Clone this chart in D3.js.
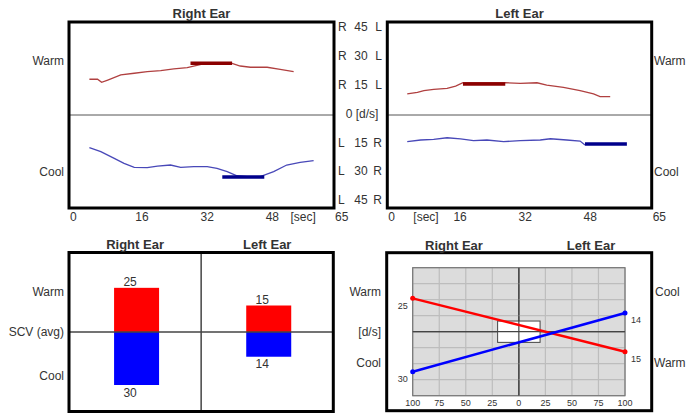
<!DOCTYPE html>
<html>
<head>
<meta charset="utf-8">
<script src="https://cdn.jsdelivr.net/npm/d3@7"></script>
<style>
  body { margin: 0; background: #fff; }
  text { font-family: Arial, "Liberation Sans", sans-serif; fill: #333; }
</style>
</head>
<body>
<div id="chart"></div>
<script>
// ---- data ----
var timeTicks = [0, 16, 32, 48, 65];
var velTicks = [45, 30, 15, 0, -15, -30, -45];

// traces: [sec, deg/s]
var rightWarm = [[5.0,17.3],[7.0,17.3],[8.0,15.8],[9.5,16.9],[12.7,19.4],[16.0,20.2],[19.2,21.0],[22.5,21.5],
                 [25.7,22.3],[29.0,22.9],[31.9,24.2],[33.9,25.2],[37.1,25.3],[40.0,25.0],[42.0,23.7],[44.5,23.1],
                 [48.6,23.1],[51.8,22.1],[55.1,21.0]];
var rightCool = [[5.0,-15.8],[7.8,-17.7],[11.1,-21.0],[13.5,-23.4],[16.0,-25.3],[19.2,-25.5],[21.7,-24.7],[24.9,-24.2],
                 [27.4,-25.3],[30.6,-25.0],[33.9,-25.0],[36.3,-25.8],[38.8,-27.4],[41.2,-29.4],[43.7,-29.8],[46.9,-29.8],
                 [50.2,-27.4],[53.4,-24.2],[56.7,-22.9],[60.0,-22.1]];
var leftWarm = [[4.9,10.2],[7.4,11.0],[9.0,11.8],[11.4,12.4],[14.7,12.9],[16.8,14.0],[18.6,15.6],[29.0,15.6],
                [32.7,15.3],[36.8,15.6],[39.2,14.5],[43.3,13.4],[47.4,11.8],[50.7,10.2],[52.3,8.9],[54.8,8.9]];
var leftCool = [[4.9,-12.9],[8.2,-12.1],[11.4,-11.8],[14.7,-11.0],[18.0,-11.6],[21.2,-12.4],[24.5,-12.1],[28.6,-12.9],
                [32.7,-12.4],[37.6,-12.1],[40.1,-11.5],[44.1,-12.1],[47.4,-12.6],[48.6,-14.5]];

// culmination windows: [start sec, end sec]
var rightWarmWin = [29.8, 40.0];
var rightCoolWin = [37.6, 47.9];
var leftWarmWin = [18.6, 29.0];
var leftCoolWin = [48.6, 58.9];

// slow component velocity averages
var ears = ["Right Ear", "Left Ear"];
var scvWarm = [25, 15];
var scvCool = [30, 14];

// butterfly chart
var pctTicks = [-100, -75, -50, -25, 0, 25, 50, 75, 100];
var dsGrid = [-48, -36, -24, -12, 0, 12, 24, 36, 48];
var normalUW = 20, normalDP = 8;

// ---- drawing ----
var W = 686, H = 414;
var svg = d3.select("#chart").append("svg").attr("width", W).attr("height", H);

var warmThin = "#b04040", warmBar = "#8b0000";
var coolThin = "#4848b8", coolBar = "#00008b";

function tracePanel(x0, x1, title, warm, cool, wWin, cWin, warmVal, coolVal, withSecAt) {
  var x = d3.scaleLinear().domain([0, 65]).range([x0, x1]);
  var y = d3.scaleLinear().domain([-45, 45]).range([208, 22]);
  var g = svg.append("g");

  g.append("line").attr("x1", x0).attr("x2", x1).attr("y1", y(0)).attr("y2", y(0))
    .attr("stroke", "#555").attr("stroke-width", 1);

  var line = d3.line().x(function(d) { return x(d[0]); }).y(function(d) { return y(d[1]); });
  g.append("path").datum(warm).attr("d", line).attr("fill", "none").attr("stroke", warmThin).attr("stroke-width", 1.3);
  g.append("path").datum(cool).attr("d", line).attr("fill", "none").attr("stroke", coolThin).attr("stroke-width", 1.3);

  g.append("line").attr("x1", x(wWin[0])).attr("x2", x(wWin[1])).attr("y1", y(warmVal)).attr("y2", y(warmVal))
    .attr("stroke", warmBar).attr("stroke-width", 3.5);
  g.append("line").attr("x1", x(cWin[0])).attr("x2", x(cWin[1])).attr("y1", y(-coolVal)).attr("y2", y(-coolVal))
    .attr("stroke", coolBar).attr("stroke-width", 3.5);

  g.append("rect").attr("x", x0).attr("y", 22).attr("width", x1 - x0).attr("height", 186)
    .attr("fill", "none").attr("stroke", "#000").attr("stroke-width", 3);

  g.append("text").attr("x", (x0 + x1) / 2).attr("y", 13).attr("dy", "0.35em")
    .attr("text-anchor", "middle").attr("font-size", 13).attr("font-weight", "bold").text(title);

  g.selectAll(".tt").data(timeTicks).enter().append("text")
    .attr("x", function(d) { return x(d) + 1; }).attr("y", 217).attr("dy", "0.35em")
    .attr("font-size", 12).text(function(d) { return d; });
  g.append("text").attr("x", x(withSecAt)).attr("y", 217).attr("dy", "0.35em")
    .attr("font-size", 12).text("[sec]");
  return y;
}

tracePanel(69, 334, "Right Ear", rightWarm, rightCool, rightWarmWin, rightCoolWin, scvWarm[0], scvCool[0], 54.3);
tracePanel(387.3, 651.7, "Left Ear", leftWarm, leftCool, leftWarmWin, leftCoolWin, scvWarm[1], scvCool[1], 6.4);

// side labels of the trace panels
svg.append("text").attr("x", 64).attr("y", 61).attr("dy", "0.35em").attr("text-anchor", "end").attr("font-size", 12).text("Warm");
svg.append("text").attr("x", 64).attr("y", 172).attr("dy", "0.35em").attr("text-anchor", "end").attr("font-size", 12).text("Cool");
svg.append("text").attr("x", 654).attr("y", 61).attr("dy", "0.35em").attr("font-size", 12).text("Warm");
svg.append("text").attr("x", 654).attr("y", 172).attr("dy", "0.35em").attr("font-size", 12).text("Cool");

// shared velocity labels between the trace panels
var yLab = d3.scalePoint().domain(velTicks).range([27, 200]);
var vl = svg.selectAll(".vl").data(velTicks).enter().append("g")
  .attr("transform", function(d) { return "translate(0," + yLab(d) + ")"; });
vl.filter(function(d) { return d !== 0; }).append("text").attr("x", 338).attr("dy", "0.35em").attr("font-size", 12)
  .text(function(d) { return d > 0 ? "R" : "L"; });
vl.filter(function(d) { return d !== 0; }).append("text").attr("x", 361).attr("dy", "0.35em").attr("text-anchor", "middle").attr("font-size", 12)
  .text(function(d) { return Math.abs(d); });
vl.filter(function(d) { return d !== 0; }).append("text").attr("x", 382).attr("dy", "0.35em").attr("text-anchor", "end").attr("font-size", 12)
  .text(function(d) { return d > 0 ? "L" : "R"; });
vl.filter(function(d) { return d === 0; }).append("text").attr("x", 362).attr("dy", "0.35em").attr("text-anchor", "middle").attr("font-size", 12)
  .text("0 [d/s]");

// ---- SCV bar chart ----
var bx = d3.scaleBand().domain(ears).range([69, 333.3]);
var by = d3.scaleLinear().domain([-45, 45]).range([411.5, 252.5]);
var barW = 45;
var bg = svg.append("g");
bg.selectAll(".bw").data(ears).enter().append("rect")
  .attr("x", function(d) { return bx(d) + bx.bandwidth() / 2 - barW / 2 + 1.5; })
  .attr("width", barW)
  .attr("y", function(d, i) { return by(scvWarm[i]); })
  .attr("height", function(d, i) { return by(0) - by(scvWarm[i]); })
  .attr("fill", "#ff0000");
bg.selectAll(".bc").data(ears).enter().append("rect")
  .attr("x", function(d) { return bx(d) + bx.bandwidth() / 2 - barW / 2 + 1.5; })
  .attr("width", barW)
  .attr("y", by(0))
  .attr("height", function(d, i) { return by(-scvCool[i]) - by(0); })
  .attr("fill", "#0000ff");
bg.selectAll(".lw").data(ears).enter().append("text")
  .attr("x", function(d) { return bx(d) + bx.bandwidth() / 2 - 5; })
  .attr("y", function(d, i) { return by(scvWarm[i]) - 6; }).attr("dy", "0.35em")
  .attr("text-anchor", "middle").attr("font-size", 12)
  .text(function(d, i) { return scvWarm[i]; });
bg.selectAll(".lc").data(ears).enter().append("text")
  .attr("x", function(d) { return bx(d) + bx.bandwidth() / 2 - 5; })
  .attr("y", function(d, i) { return by(-scvCool[i]) + 7.5; }).attr("dy", "0.35em")
  .attr("text-anchor", "middle").attr("font-size", 12)
  .text(function(d, i) { return scvCool[i]; });
bg.append("line").attr("x1", 69).attr("x2", 333.3).attr("y1", by(0)).attr("y2", by(0)).attr("stroke", "#444").attr("stroke-width", 1.5);
bg.append("line").attr("x1", bx("Left Ear")).attr("x2", bx("Left Ear")).attr("y1", 252.5).attr("y2", 411.5).attr("stroke", "#444").attr("stroke-width", 1.5);
bg.append("rect").attr("x", 69).attr("y", 252.5).attr("width", 264.3).attr("height", 159)
  .attr("fill", "none").attr("stroke", "#000").attr("stroke-width", 3);
bg.selectAll(".bt").data(ears).enter().append("text")
  .attr("x", function(d) { return bx(d) + bx.bandwidth() / 2; }).attr("y", 244).attr("dy", "0.35em")
  .attr("text-anchor", "middle").attr("font-size", 13).attr("font-weight", "bold").text(function(d) { return d; });
bg.append("text").attr("x", 64).attr("y", 292).attr("dy", "0.35em").attr("text-anchor", "end").attr("font-size", 12).text("Warm");
bg.append("text").attr("x", 64).attr("y", 332).attr("dy", "0.35em").attr("text-anchor", "end").attr("font-size", 12).text("SCV (avg)");
bg.append("text").attr("x", 64).attr("y", 376).attr("dy", "0.35em").attr("text-anchor", "end").attr("font-size", 12).text("Cool");

// ---- butterfly chart ----
var px = d3.scaleLinear().domain([-100, 100]).range([412.7, 625]);
var py = d3.scaleLinear().domain([-48, 48]).range([395.7, 267.7]);
var fg = svg.append("g");
fg.append("rect").attr("x", px(-100)).attr("y", py(48)).attr("width", px(100) - px(-100)).attr("height", py(-48) - py(48))
  .attr("fill", "#dcdcdc");
fg.selectAll(".gx").data(pctTicks).enter().append("line")
  .attr("x1", px).attr("x2", px).attr("y1", py(48)).attr("y2", py(-48))
  .attr("stroke", function(d) { return d === 0 ? "#444" : "#bdbdbd"; }).attr("stroke-width", 1.2);
fg.selectAll(".gy").data(dsGrid).enter().append("line")
  .attr("x1", px(-100)).attr("x2", px(100)).attr("y1", py).attr("y2", py)
  .attr("stroke", function(d) { return d === 0 ? "#444" : "#bdbdbd"; }).attr("stroke-width", 1.2);
fg.append("rect").attr("x", px(-100)).attr("y", py(48)).attr("width", px(100) - px(-100)).attr("height", py(-48) - py(48))
  .attr("fill", "none").attr("stroke", "#777").attr("stroke-width", 1.2);
fg.append("rect").attr("x", px(-normalUW)).attr("y", py(normalDP)).attr("width", px(normalUW) - px(-normalUW))
  .attr("height", py(-normalDP) - py(normalDP)).attr("fill", "#fff").attr("stroke", "#444").attr("stroke-width", 1);
fg.append("line").attr("x1", px(0)).attr("x2", px(0)).attr("y1", py(48)).attr("y2", py(-48)).attr("stroke", "#444").attr("stroke-width", 1.2);
fg.append("line").attr("x1", px(-100)).attr("x2", px(100)).attr("y1", py(0)).attr("y2", py(0)).attr("stroke", "#444").attr("stroke-width", 1.2);

var warmPts = [[-100, scvWarm[0]], [100, -scvWarm[1]]];
var coolPts = [[-100, -scvCool[0]], [100, scvCool[1]]];
var bl = d3.line().x(function(d) { return px(d[0]); }).y(function(d) { return py(d[1]); });
[[warmPts, "#ff0000"], [coolPts, "#0000ff"]].forEach(function(s) {
  fg.append("path").datum(s[0]).attr("d", bl).attr("fill", "none").attr("stroke", s[1]).attr("stroke-width", 2.5);
  fg.selectAll(null).data(s[0]).enter().append("circle")
    .attr("cx", function(d) { return px(d[0]); }).attr("cy", function(d) { return py(d[1]); })
    .attr("r", 2.5).attr("fill", s[1]);
  fg.selectAll(null).data(s[0]).enter().append("text")
    .attr("x", function(d) { return d[0] < 0 ? px(d[0]) - 5 : px(d[0]) + 6; })
    .attr("y", function(d) { return py(d[1]) + 7; }).attr("dy", "0.35em")
    .attr("text-anchor", function(d) { return d[0] < 0 ? "end" : "start"; })
    .attr("font-size", 9).text(function(d) { return Math.abs(d[1]); });
});

fg.selectAll(".px").data(pctTicks).enter().append("text")
  .attr("x", px).attr("y", 403).attr("dy", "0.35em").attr("text-anchor", "middle").attr("font-size", 9)
  .text(function(d) { return Math.abs(d); });

fg.append("rect").attr("x", 386.7).attr("y", 252.7).attr("width", 265).attr("height", 158)
  .attr("fill", "none").attr("stroke", "#000").attr("stroke-width", 3);
fg.append("text").attr("x", 454).attr("y", 245).attr("dy", "0.35em").attr("text-anchor", "middle")
  .attr("font-size", 13).attr("font-weight", "bold").text(ears[0]);
fg.append("text").attr("x", 591).attr("y", 245).attr("dy", "0.35em").attr("text-anchor", "middle")
  .attr("font-size", 13).attr("font-weight", "bold").text(ears[1]);
fg.append("text").attr("x", 381).attr("y", 292).attr("dy", "0.35em").attr("text-anchor", "end").attr("font-size", 12).text("Warm");
fg.append("text").attr("x", 381).attr("y", 332).attr("dy", "0.35em").attr("text-anchor", "end").attr("font-size", 12).text("[d/s]");
fg.append("text").attr("x", 381).attr("y", 363).attr("dy", "0.35em").attr("text-anchor", "end").attr("font-size", 12).text("Cool");
fg.append("text").attr("x", 655).attr("y", 292).attr("dy", "0.35em").attr("font-size", 12).text("Cool");
fg.append("text").attr("x", 654).attr("y", 363).attr("dy", "0.35em").attr("font-size", 12).text("Warm");
</script>
</body>
</html>
